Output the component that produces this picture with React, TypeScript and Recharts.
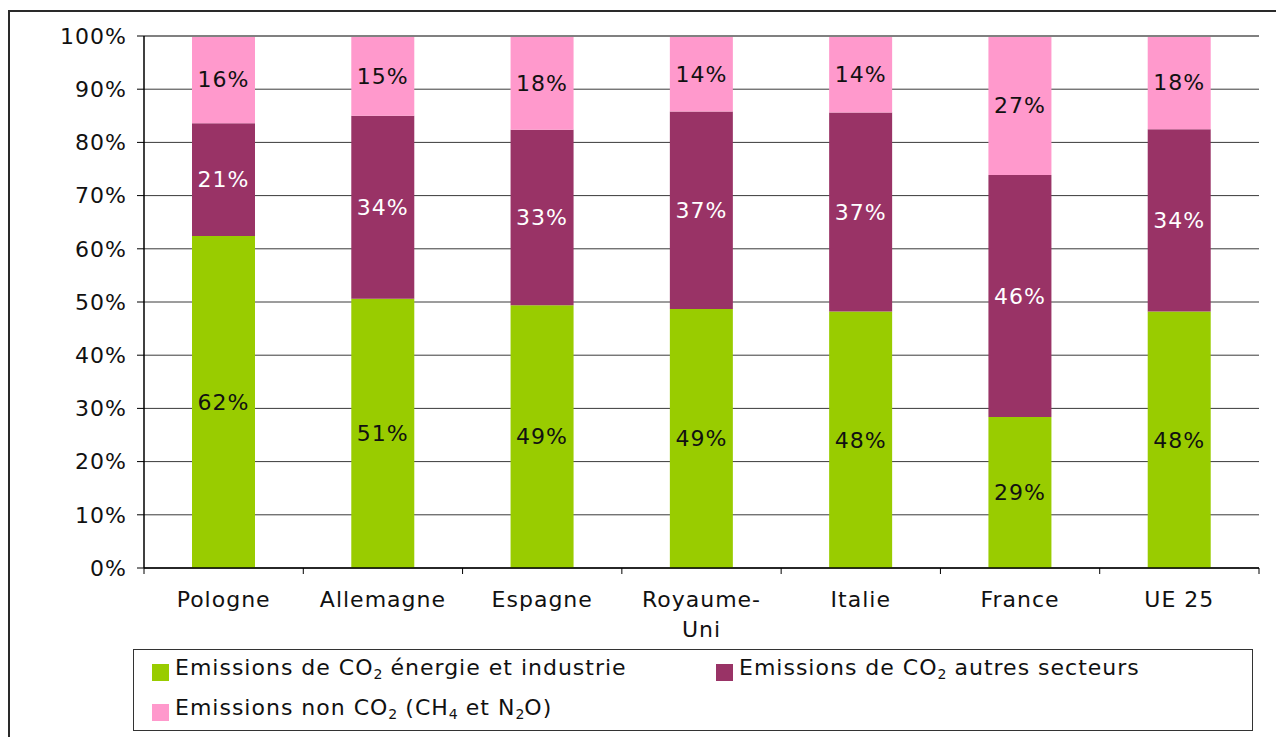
import { BarChart, Bar, XAxis, YAxis, CartesianGrid, Legend, LabelList, ReferenceLine } from 'recharts';

// Part of each country's emissions, in % (stacked to 100%)
const countries = ['Pologne', 'Allemagne', 'Espagne', 'Royaume-Uni', 'Italie', 'France', 'UE 25'];
const co2Energy = [62.4, 50.6, 49.4, 48.7, 48.2, 28.9, 48.4];
const co2Other = [21.2, 34.4, 33.0, 37.1, 37.4, 46.3, 34.4];
const nonCo2 = [16.4, 15.0, 17.6, 14.2, 14.4, 26.6, 17.6];
const yTicks = [0, 0.1, 0.2, 0.3, 0.4, 0.5, 0.6, 0.7, 0.8, 0.9, 1];

const seriesKeys = ['energy', 'other', 'nonco2'];
const seriesNames = {
  energy: 'Emissions de CO2 énergie et industrie',
  other: 'Emissions de CO2 autres secteurs',
  nonco2: 'Emissions non CO2 (CH4 et N2O)',
};

const GREEN = '#99CC00';
const PLUM = '#993366';
const PINK = '#FF99CC';

const data = countries.map((name, i) => ({
  name,
  energy: co2Energy[i],
  other: co2Other[i],
  nonco2: nonCo2[i],
}));

const pct = (v: any) => `${Math.round(Number(v))}%`;

// chemical formulas: digit right after a capital letter goes down
function withSubscripts(text: string) {
  const parts = text.split(/(?<=[A-Z])(\d)/);
  return parts.map((p, i) =>
    i % 2 === 1 ? (
      <span key={i} style={{ fontSize: '0.64em', verticalAlign: '-0.3em', letterSpacing: 0 }}>
        {p}
      </span>
    ) : (
      <span key={i}>{p}</span>
    )
  );
}

function CountryTick(props: any) {
  const { x, y, payload, index, visibleTicksCount, width } = props;
  const half = typeof payload.offset === 'number' && payload.offset > 0 ? payload.offset : width / visibleTicksCount / 2;
  const lines = String(payload.value).split(/(?<=-)/);
  return (
    <g>
      <line x1={x - half} y1={y} x2={x - half} y2={y + 6} stroke="#000" />
      {index === visibleTicksCount - 1 && <line x1={x + half} y1={y} x2={x + half} y2={y + 6} stroke="#000" />}
      <text x={x} y={y + 39} textAnchor="middle" fill="#111" fontSize={22}>
        {lines.map((l, i) => (
          <tspan key={i} x={x} dy={i ? 30 : 0}>
            {l}
          </tspan>
        ))}
      </text>
    </g>
  );
}

function LegendBox({ payload }: any) {
  const items = [...(payload || [])].sort(
    (a: any, b: any) => seriesKeys.indexOf(a.dataKey) - seriesKeys.indexOf(b.dataKey)
  );
  return (
    <div
      style={{
        boxSizing: 'border-box',
        width: '100%',
        height: '100%',
        border: '1.5px solid #333',
        background: '#fff',
        padding: '11px 0 0 18px',
        display: 'grid',
        gridTemplateColumns: '564px 1fr',
        gridAutoRows: '40px',
      }}
    >
      {items.map((item: any) => (
        <div key={item.value} style={{ display: 'flex', alignItems: 'center', height: 20 }}>
          <span style={{ width: 17, height: 17, background: item.color, marginRight: 6, flex: 'none', marginTop: 3 }} />
          <span style={{ fontSize: 22, color: '#111', whiteSpace: 'nowrap', lineHeight: '20px' }}>
            {withSubscripts(String(item.value))}
          </span>
        </div>
      ))}
    </div>
  );
}

const labelStyle = { fontSize: 22 };

export default function App() {
  return (
    <div
      style={{
        position: 'absolute',
        left: 0,
        top: 0,
        width: 1276,
        height: 737,
        overflow: 'hidden',
        background: '#fff',
        fontFamily: '"DejaVu Sans", Verdana, sans-serif',
        letterSpacing: 1,
      }}
    >
      <div
        style={{
          position: 'absolute',
          left: 8,
          top: 10,
          width: 1320,
          height: 800,
          border: '2px solid #2a2a2a',
        }}
      />
      <BarChart
        width={1276}
        height={737}
        data={data}
        stackOffset="expand"
        margin={{ top: 36, right: 17, left: 64, bottom: 109 }}
      >
        <CartesianGrid vertical={false} stroke="#3a3a3a" />
        <XAxis
          dataKey="name"
          height={60}
          axisLine={{ stroke: '#000', strokeWidth: 1.5 }}
          tickLine={false}
          tickSize={0}
          tickMargin={0}
          interval={0}
          tick={<CountryTick />}
        />
        <YAxis
          width={80}
          ticks={yTicks}
          domain={[0, 1]}
          tickFormatter={(v: number) => `${Math.round(v * 100)}%`}
          axisLine={{ stroke: '#000', strokeWidth: 1.5 }}
          tickLine={{ stroke: '#000' }}
          tickSize={7}
          tickMargin={10}
          tick={{ fill: '#111', fontSize: 22 }}
        />
        <YAxis
          yAxisId="frame"
          orientation="right"
          width={0}
          domain={[0, 1]}
          tick={false}
          tickLine={false}
          axisLine={{ stroke: '#808080', strokeWidth: 2 }}
        />
        <ReferenceLine y={1} stroke="#808080" strokeWidth={2} />
        <Legend
          layout="horizontal"
          verticalAlign="middle"
          align="center"
          wrapperStyle={{ left: 133, top: 649, width: 1120, height: 82 }}
          content={<LegendBox />}
        />
        <Bar dataKey="energy" name={seriesNames.energy} stackId="s" fill={GREEN} barSize={63} isAnimationActive={false}>
          <LabelList dataKey="energy" position="center" formatter={pct} fill="#111" style={labelStyle} />
        </Bar>
        <Bar dataKey="other" name={seriesNames.other} stackId="s" fill={PLUM} barSize={63} isAnimationActive={false}>
          <LabelList dataKey="other" position="center" formatter={pct} fill="#fff" style={labelStyle} />
        </Bar>
        <Bar dataKey="nonco2" name={seriesNames.nonco2} stackId="s" fill={PINK} barSize={63} isAnimationActive={false}>
          <LabelList dataKey="nonco2" position="center" formatter={pct} fill="#111" style={labelStyle} />
        </Bar>
      </BarChart>
    </div>
  );
}
